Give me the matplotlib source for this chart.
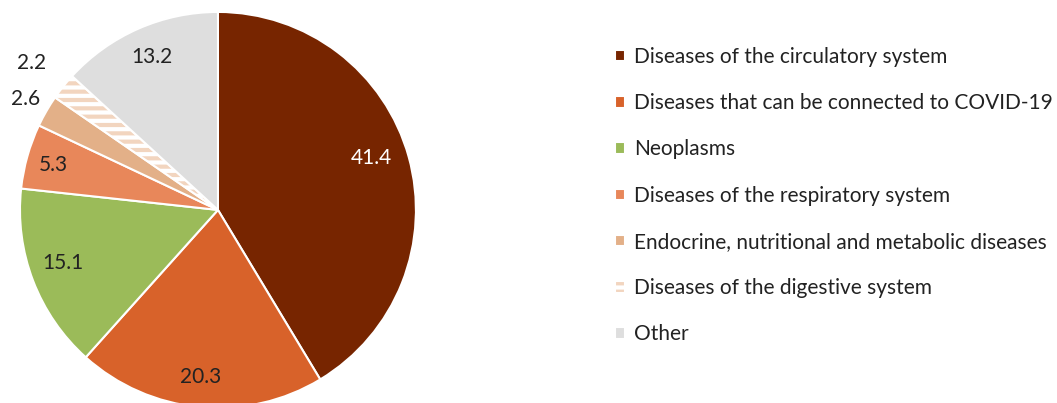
import matplotlib.pyplot as plt
import numpy as np

# Share of deaths by cause (%)
causes = [
    "Diseases of the circulatory system",
    "Diseases that can be connected to COVID-19",
    "Neoplasms",
    "Diseases of the respiratory system",
    "Endocrine, nutritional and metabolic diseases",
    "Diseases of the digestive system",
    "Other",
]
shares = [41.4, 20.3, 15.1, 5.3, 2.6, 2.2, 13.2]
colors = ['#772500', '#D8622A', '#9BBB59', '#E8875A', '#E3B088', '#F2D5BF', '#DEDEDE']
hatches = [None, None, None, None, None, '--', None]

plt.rcParams['font.family'] = ['Lato', 'DejaVu Sans']
plt.rcParams['hatch.linewidth'] = 3
plt.rcParams['hatch.color'] = 'white'

fig = plt.figure(figsize=(10.57, 4.03), dpi=100)
ax = fig.add_axes([0.0189, -0.0124, 0.3746, 0.983])

wedges, _ = ax.pie(shares, colors=colors, startangle=90, counterclock=False,
                   radius=1, wedgeprops=dict(edgecolor='white', linewidth=1.5))
for w, h in zip(wedges, hatches):
    if h:
        w.set_hatch(h)

# value labels: (radius, angle in degrees) like Excel's best-fit placement
label_pos = [(0.82, 18.7), (0.85, -95.8), (0.83, -161.2), (0.86, 164.7),
             (1.12, 150.1), (1.20, 141.7), (0.84, 113.3)]
text_colors = ['white'] + ['#222222'] * 6
for v, (r, a), tc in zip(shares, label_pos, text_colors):
    ang = np.deg2rad(a)
    ax.text(r * np.cos(ang), r * np.sin(ang), f'{v:.1f}', ha='center', va='center',
            fontsize=15, color=tc)

ax.set_xlim(-1, 1)
ax.set_ylim(-1, 1)
ax.set_aspect('equal')
ax.axis('off')

fig.legend(wedges, causes, loc='upper left', bbox_to_anchor=(0.564, 0.930),
           frameon=False, fontsize=15, handlelength=0.48, handleheight=0.48,
           handletextpad=0.43, labelspacing=1.26, labelcolor='#222222')

plt.savefig('out.png', dpi=100)
plt.close()
